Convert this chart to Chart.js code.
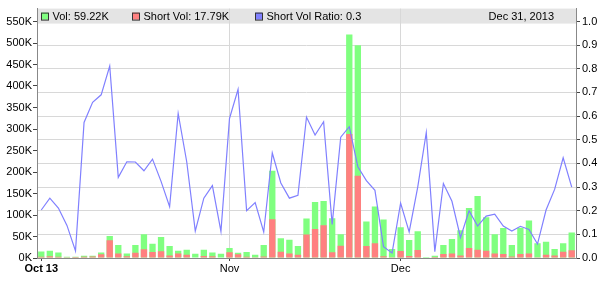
<!DOCTYPE html>
<html>
<head>
<meta charset="utf-8">
<script src="https://cdn.jsdelivr.net/npm/chart.js@4.4.1/dist/chart.umd.min.js"></script>
<style>
  html, body { margin: 0; padding: 0; background: #fff; }
</style>
</head>
<body>
<canvas id="myChart" width="600" height="294"></canvas>
<script>
// trading days, Oct 2 - Dec 31 2013
const dates = [
  '2013-10-02','2013-10-03','2013-10-04','2013-10-07','2013-10-08','2013-10-09','2013-10-10','2013-10-11',
  '2013-10-14','2013-10-15','2013-10-16','2013-10-17','2013-10-18','2013-10-21','2013-10-22','2013-10-23',
  '2013-10-24','2013-10-25','2013-10-28','2013-10-29','2013-10-30','2013-10-31',
  '2013-11-01','2013-11-04','2013-11-05','2013-11-06','2013-11-07','2013-11-08','2013-11-11','2013-11-12',
  '2013-11-13','2013-11-14','2013-11-15','2013-11-18','2013-11-19','2013-11-20','2013-11-21','2013-11-22',
  '2013-11-25','2013-11-26','2013-11-27','2013-11-29',
  '2013-12-02','2013-12-03','2013-12-04','2013-12-05','2013-12-06','2013-12-09','2013-12-10','2013-12-11',
  '2013-12-12','2013-12-13','2013-12-16','2013-12-17','2013-12-18','2013-12-19','2013-12-20','2013-12-23',
  '2013-12-24','2013-12-26','2013-12-27','2013-12-30','2013-12-31'
];

// volume in K
const vol = [
  15, 17, 12.8, 3, 3, 5.5, 5.5, 12.8, 51, 30.5, 10.5, 30.3, 55.5, 33, 49, 28,
  17, 18.9, 9.8, 18.9, 12.8, 10,
  23, 12, 14, 7.5, 30.3, 203, 46.2, 42.4, 28, 91.8, 130.5, 132.7, 92.5, 55.3,
  520, 495, 85, 119.8, 89.5, 21.2,
  71.3, 41.7, 62.2, 2.3, 5.2, 30.3, 44, 64.4, 116, 144, 94.7, 55.3, 69.7, 30.3,
  70.6, 87.2, 34.2, 37.8, 21.2, 34.2, 59.22
];

// short volume in K
const shortVol = [
  3, 4, 2.7, 0.4, 0.1, 3.1, 3.6, 8.5, 41, 10.4, 4.3, 12.3, 20.5, 13.8, 15.9, 6.1,
  10.4, 7.7, 1.1, 4.8, 3.9, 1.1,
  13.6, 8.6, 2.8, 1.8, 3.3, 90, 14.6, 10.7, 7.4, 54.7, 67.6, 76.4, 13.1, 28.3,
  288.6, 191, 27.8, 34.3, 4.3, 0.4,
  16.5, 4.6, 18.6, 1.2, 0.1, 9.5, 10.6, 5.6, 23.2, 19.4, 16.7, 10.3, 9.4, 3.5,
  9.5, 10.6, 2, 7.7, 6.1, 14.5, 17.79
];

const ratio = [
  0.203, 0.253, 0.211, 0.138, 0.030, 0.573, 0.658, 0.690, 0.812, 0.341, 0.407, 0.406, 0.369, 0.418, 0.324, 0.217,
  0.611, 0.407, 0.114, 0.253, 0.306, 0.113,
  0.59, 0.713, 0.200, 0.234, 0.110, 0.444, 0.317, 0.253, 0.265, 0.596, 0.52, 0.576, 0.142, 0.511,
  0.555, 0.386, 0.327, 0.286, 0.048, 0.021,
  0.232, 0.110, 0.30, 0.531, 0.027, 0.315, 0.24, 0.087, 0.200, 0.135, 0.177, 0.185, 0.135, 0.114,
  0.134, 0.121, 0.059, 0.203, 0.29, 0.424, 0.30
];

const monthTicks = { '2013-10-02': 'Oct 13', '2013-11-01': 'Nov', '2013-12-02': 'Dec' };
const volTicks = [0, 50, 100, 150, 200, 250, 300, 350, 400, 450, 500, 550];
const ratioTicks = [0, 0.1, 0.2, 0.3, 0.4, 0.5, 0.6, 0.7, 0.8, 0.9, 1.0];
const lastDateText = 'Dec 31, 2013';

const GREEN = '#80ff80';
const RED = '#ff8080';
const BLUE = '#8080ff';

Chart.defaults.font.family = '"Liberation Sans", Arial, sans-serif';
Chart.defaults.font.size = 11;
Chart.defaults.color = '#000';

// grey band with the legend inside the top of the plot
const legendBand = {
  id: 'legendBand',
  beforeDraw(chart) {
    const { ctx, chartArea } = chart;
    ctx.save();
    ctx.fillStyle = '#e4e4e4';
    ctx.fillRect(chartArea.left, chartArea.top, chartArea.right - chartArea.left, 15);
    ctx.restore();
  },
  afterDraw(chart) {
    const { ctx, chartArea } = chart;
    const last = vol.length - 1;
    const items = [
      { x: 41, color: GREEN, text: 'Vol: ' + vol[last].toFixed(2) + 'K' },
      { x: 132, color: RED, text: 'Short Vol: ' + shortVol[last].toFixed(2) + 'K' },
      { x: 255, color: BLUE, text: 'Short Vol Ratio: ' + ratio[last].toFixed(1) }
    ];
    const midY = chartArea.top + 7.5;
    ctx.save();
    ctx.font = '11px "Liberation Sans", Arial, sans-serif';
    ctx.textBaseline = 'middle';
    ctx.fillStyle = '#000';
    items.forEach(item => {
      ctx.fillStyle = item.color;
      ctx.fillRect(item.x, midY - 3.5, 7, 7);
      ctx.strokeStyle = '#333';
      ctx.lineWidth = 1;
      ctx.strokeRect(item.x + 0.5, midY - 3.5 + 0.5, 7, 7);
      ctx.fillStyle = '#000';
      ctx.textAlign = 'left';
      ctx.fillText(item.text, item.x + 11.5, midY + 0.5);
    });
    ctx.textAlign = 'right';
    ctx.fillText(lastDateText, 554, midY + 0.5);
    ctx.restore();
  }
};

new Chart(document.getElementById('myChart'), {
  data: {
    labels: dates,
    datasets: [
      {
        type: 'line',
        label: 'Short Vol Ratio',
        data: ratio,
        yAxisID: 'y1',
        borderColor: BLUE,
        borderWidth: 1.2,
        pointRadius: 0,
        tension: 0,
        order: 0
      },
      {
        type: 'bar',
        label: 'Short Vol',
        data: shortVol.map(v => v * 1000),
        yAxisID: 'y',
        backgroundColor: RED,
        grouped: false,
        barPercentage: 0.74,
        categoryPercentage: 1,
        order: 1
      },
      {
        type: 'bar',
        label: 'Vol',
        data: vol.map(v => v * 1000),
        yAxisID: 'y',
        backgroundColor: GREEN,
        grouped: false,
        barPercentage: 0.74,
        categoryPercentage: 1,
        order: 2
      }
    ]
  },
  options: {
    responsive: false,
    animation: false,
    layout: { padding: { top: 4, left: 0, right: 0, bottom: 0 } },
    plugins: { legend: { display: false }, tooltip: { enabled: false } },
    scales: {
      x: {
        type: 'category',
        offset: true,
        afterFit: s => { s.height = 36; },
        border: { color: '#888' },
        grid: {
          offset: false,
          tickLength: 3,
          color: c => (c.index > 0 && monthTicks[dates[c.index]]) ? '#d8d8d8' : 'transparent',
          tickColor: c => monthTicks[dates[c.index]] ? '#444' : 'transparent'
        },
        ticks: {
          autoSkip: false,
          maxRotation: 0,
          padding: 1,
          font: c => ({ weight: c.index === 0 ? 'bold' : 'normal' }),
          callback: (v, i) => monthTicks[dates[i]] || ''
        }
      },
      y: {
        position: 'left',
        min: 0,
        max: 580000,
        afterFit: s => { s.width = 37; },
        afterBuildTicks: s => { s.ticks = volTicks.map(v => ({ value: v * 1000 })); },
        border: { color: '#888' },
        grid: { drawOnChartArea: false, tickLength: 4, tickColor: '#444' },
        ticks: { padding: 1, callback: v => (v / 1000) + 'K' }
      },
      y1: {
        position: 'right',
        min: 0,
        max: 580 / 550,
        afterFit: s => { s.width = 24; },
        afterBuildTicks: s => { s.ticks = ratioTicks.map(v => ({ value: v })); },
        border: { color: '#888' },
        grid: {
          tickLength: 4,
          tickColor: '#444',
          color: c => (c.tick.value > 0 && c.tick.value < 0.95) ? '#d8d8d8' : 'transparent'
        },
        ticks: { padding: 2, callback: v => v.toFixed(1) }
      }
    }
  },
  plugins: [legendBand]
});
</script>
</body>
</html>
